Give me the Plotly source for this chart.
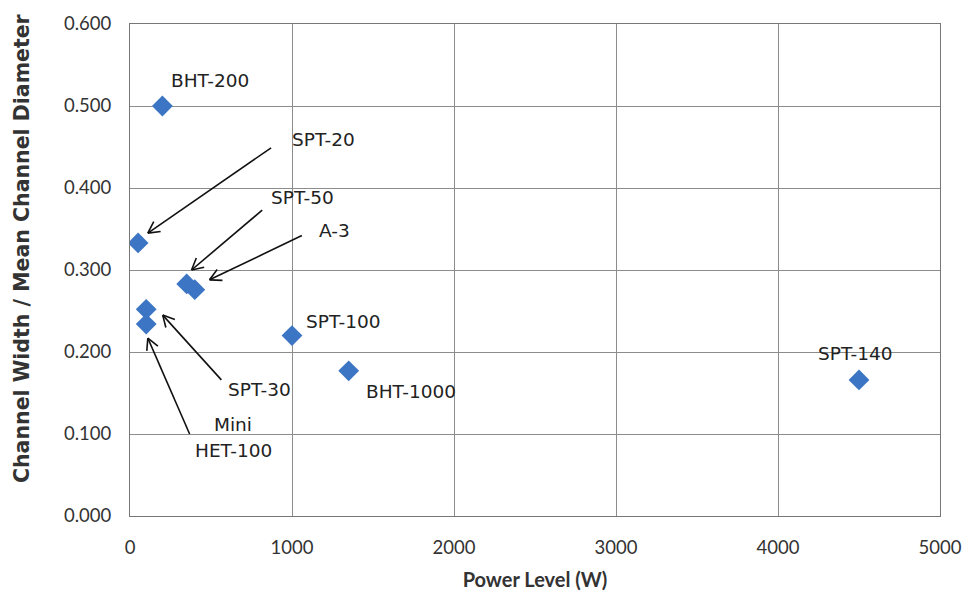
import math
import plotly.graph_objects as go

names = ["BHT-200", "SPT-20", "SPT-50", "A-3", "SPT-30", "HET-100", "SPT-100", "BHT-1000", "SPT-140"]
power = [200, 50, 350, 400, 100, 100, 1000, 1350, 4500]
ratio = [0.500, 0.333, 0.283, 0.276, 0.252, 0.234, 0.220, 0.177, 0.166]

# label text centres (data coords)
label_text = ["BHT-200", "SPT-20", "SPT-50", "A-3", "SPT-30", "Mini", "HET-100", "SPT-100", "BHT-1000", "SPT-140"]
label_x = [491, 1196, 1067, 1264, 798, 638, 638, 1319, 1736, 4480]
label_y = [0.531, 0.459, 0.389, 0.348, 0.154, 0.112, 0.080, 0.237, 0.152, 0.198]

# arrows: tail (from) -> head (to), data coords
arrow_tail_x = [871, 816, 1061, 564, 368]
arrow_tail_y = [0.449, 0.373, 0.342, 0.166, 0.100]
arrow_head_x = [110, 380, 491, 202, 110]
arrow_head_y = [0.345, 0.300, 0.288, 0.245, 0.217]

X_RANGE = [0, 5000]
Y_RANGE = [0, 0.6]
W, H = 974, 601
M = dict(l=130, r=29, t=18, b=85)
pw = W - M["l"] - M["r"]
ph = H - M["t"] - M["b"]
sx = pw / (X_RANGE[1] - X_RANGE[0])
sy = ph / (Y_RANGE[1] - Y_RANGE[0])

font_family = "Lato, 'Open Sans', sans-serif"
label_font = "'DejaVu Sans', Verdana, sans-serif"

# build arrow line segments (shaft + open V head)
ax_pts, ay_pts = [], []
wing_len = 13.0
wing_ang = math.radians(28)
for tx, ty, hx, hy in zip(arrow_tail_x, arrow_tail_y, arrow_head_x, arrow_head_y):
    ax_pts += [tx, hx, None]
    ay_pts += [ty, hy, None]
    dx = (tx - hx) * sx
    dy = (ty - hy) * sy
    L = math.hypot(dx, dy)
    ux, uy = dx / L, dy / L
    for s in (1, -1):
        c, si = math.cos(s * wing_ang), math.sin(s * wing_ang)
        wx = ux * c - uy * si
        wy = ux * si + uy * c
        ax_pts += [hx + wx * wing_len / sx, hx, None]
        ay_pts += [hy + wy * wing_len / sy, hy, None]

fig = go.Figure()
fig.add_trace(go.Scatter(
    x=ax_pts, y=ay_pts, mode="lines", line=dict(color="#111", width=1.6),
    hoverinfo="skip", showlegend=False,
))
fig.add_trace(go.Scatter(
    x=power, y=ratio, mode="markers", text=names,
    marker=dict(symbol="diamond", size=16, color="#3C75C3"),
    showlegend=False,
))

annotations = []
for t, x, y in zip(label_text, label_x, label_y):
    annotations.append(dict(x=x, y=y, xref="x", yref="y", text=t, showarrow=False,
                            font=dict(family=label_font, size=18.5, color="#222")))
# y-axis title (placed as rotated annotation to match the original's offset)
annotations.append(dict(x=-0.1325, y=0.544, xref="paper", yref="paper",
                        text="<b>Channel Width / Mean Channel Diameter</b>", textangle=-90,
                        showarrow=False, xanchor="center", yanchor="middle",
                        font=dict(family="'DejaVu Sans', sans-serif", size=20.5, color="#333")))

fig.update_layout(
    width=W, height=H,
    margin=M,
    paper_bgcolor="white", plot_bgcolor="white",
    font=dict(family=font_family, size=18.5, color="#333"),
    annotations=annotations,
    xaxis=dict(range=X_RANGE, tickvals=[0, 1000, 2000, 3000, 4000, 5000],
               showgrid=True, gridcolor="#8c8c8c", gridwidth=1,
               showline=True, linecolor="#777", mirror=True, zeroline=False,
               ticks="", ticklabelstandoff=15,
               title=dict(text="<b>Power Level (W)</b>", font=dict(size=20, color="#333"), standoff=15)),
    yaxis=dict(range=Y_RANGE, tickvals=[0, 0.1, 0.2, 0.3, 0.4, 0.5, 0.6], tickformat=".3f",
               showgrid=True, gridcolor="#8c8c8c", gridwidth=1,
               showline=True, linecolor="#777", mirror=True, zeroline=False,
               ticks="", ticklabelstandoff=14),
)

fig.write_html("out.html")
